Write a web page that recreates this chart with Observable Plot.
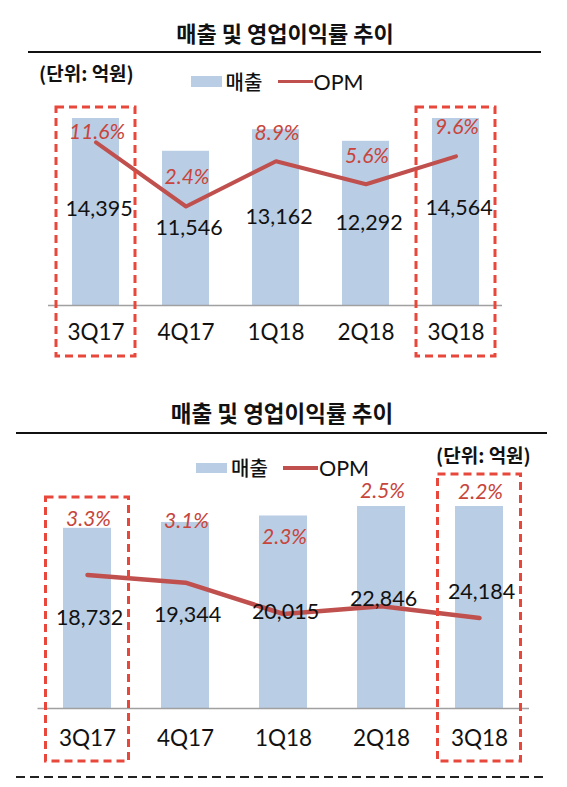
<!DOCTYPE html>
<html>
<head>
<meta charset="utf-8">
<script src="https://cdn.jsdelivr.net/npm/d3@7"></script>
<script src="https://cdn.jsdelivr.net/npm/@observablehq/plot@0.6"></script>
<style>
html, body { margin: 0; padding: 0; background: #fff; }
#page { position: relative; width: 567px; height: 787px; overflow: hidden; background: #fff; }
.abs { position: absolute; white-space: nowrap; line-height: 1; }
.kr { font-family: "Noto Sans CJK KR", sans-serif; color: #111; }
.lat { font-family: Lato, "Noto Sans CJK KR", sans-serif; color: #111; }
.plotwrap { position: absolute; left: 0; }
</style>
</head>
<body>
<div id="page"></div>
<script>
// ---------------- data ----------------
const quarters = ["3Q17", "4Q17", "1Q18", "2Q18", "3Q18"];
const salesTop = [14395, 11546, 13162, 12292, 14564];
const opmTop = [11.6, 2.4, 8.9, 5.6, 9.6];
const salesBottom = [18732, 19344, 20015, 22846, 24184];
const opmBottom = [3.3, 3.1, 2.3, 2.5, 2.2];
const highlighted = ["3Q17", "3Q18"];
const titleText = "매출 및 영업이익률 추이";
const unitText = "(단위: 억원)";
const legendSales = "매출";
const legendOpm = "OPM";

// ---------------- style ----------------
const barColor = "#b9cde5";
const lineColor = "#c0504d";
const labelRed = "#c8453b";
const boxRed = "#e8473b";

const page = document.getElementById("page");

function addDiv(cls, text, css) {
  const el = document.createElement("div");
  el.className = "abs " + cls;
  el.textContent = text;
  Object.assign(el.style, css);
  page.appendChild(el);
  return el;
}
function addBox(css) {
  const el = document.createElement("div");
  el.style.position = "absolute";
  Object.assign(el.style, css);
  page.appendChild(el);
  return el;
}

function header(h) {
  addDiv("kr", titleText, {left: h.titleX + "px", top: h.titleY + "px", fontSize: h.titleSize + "px",
    fontWeight: "700", transform: "translate(-50%,-50%)"});
  addBox({left: h.ruleX1 + "px", top: (h.ruleY - 1) + "px", width: (h.ruleX2 - h.ruleX1) + "px", height: "2px", background: "#111"});
  addDiv("kr", unitText, {left: h.unitX + "px", top: h.unitY + "px", fontSize: "19px", fontWeight: "600",
    transform: "translateY(-50%)"});
  // legend
  addBox({left: h.legX + "px", top: (h.legY - 5.3) + "px", width: "31px", height: "10.6px", background: barColor});
  addDiv("kr", legendSales, {left: (h.legX + 35) + "px", top: h.legY + "px", fontSize: "20px", fontWeight: "500",
    transform: "translateY(-50%)"});
  addBox({left: (h.legX + 87) + "px", top: (h.legY - 1.75) + "px", width: "35px", height: "3.5px", background: lineColor});
  addDiv("lat", legendOpm, {left: (h.legX + 123) + "px", top: (h.legY + 1) + "px", fontSize: "21.5px",
    transform: "translateY(-50%)"});
}

function chart(cfg) {
  const data = quarters.map((q, i) => ({q, sales: cfg.sales[i], opm: cfg.opm[i]}));
  const opmToY = d3.scaleLinear().domain(cfg.opmDomain).range([0, cfg.yMax]);
  const fmt = d3.format(",");
  const marks = [
    Plot.barY(data, {x: "q", y: "sales", fill: barColor, clip: true}),
    Plot.ruleY([0], {stroke: "#a0a0a0", strokeWidth: 1.5}),
    Plot.line(data, {x: "q", y: d => opmToY(d.opm), stroke: lineColor, strokeWidth: cfg.lineWidth,
      strokeLinejoin: "round", strokeLinecap: "round"}),
    Plot.text(data, {x: "q", y: d => d.sales / 2, text: d => fmt(d.sales), fontSize: 21.5, fill: "#111",
      dx: cfg.valueDx, dy: cfg.valueDy}),
    ...data.map((d, i) => Plot.text([d], {x: "q", y: e => opmToY(e.opm), text: e => e.opm.toFixed(1) + "%",
      dx: 1, dy: cfg.opmLabelDy[i], fill: labelRed, fontSize: 21, fontStyle: "italic"})),
    ...highlighted.map((q, i) => Plot.barY([q], {x: d => d, y: () => cfg.yMax, fill: "none", stroke: boxRed,
      strokeWidth: 3, strokeDasharray: "8,5", insetLeft: cfg.boxSide, insetRight: cfg.boxSide,
      insetTop: cfg.boxTop[i], insetBottom: cfg.boxBottom})),
    Plot.axisX({tickSize: 0, tickPadding: cfg.tickPadding, fontSize: 22.5, label: null, fill: "#111"})
  ];
  const svg = Plot.plot({
    width: 567,
    height: cfg.height,
    marginTop: cfg.marginTop,
    marginBottom: cfg.marginBottom,
    marginLeft: cfg.marginLeft,
    marginRight: cfg.marginRight,
    x: {domain: quarters, type: "band", paddingInner: cfg.pad, paddingOuter: cfg.pad / 2},
    y: {domain: [0, cfg.yMax], axis: null},
    style: {fontFamily: "Lato, 'Noto Sans CJK KR', sans-serif", background: "transparent", overflow: "visible", color: "#111"},
    marks
  });
  const wrap = document.createElement("div");
  wrap.className = "plotwrap";
  wrap.style.top = cfg.top + "px";
  wrap.appendChild(svg);
  page.appendChild(wrap);
}

// ---------------- top chart ----------------
header({titleX: 285, titleY: 32, titleSize: 22, ruleX1: 28, ruleX2: 541, ruleY: 52,
  unitX: 39, unitY: 72, legX: 190.5, legY: 81.5});
chart({
  sales: salesTop, opm: opmTop, top: 95, height: 275,
  marginTop: 23, marginBottom: 65, marginLeft: 48, marginRight: 65,
  pad: 0.48, yMax: 14000, opmDomain: [-11.82, 15.04], lineWidth: 4,
  valueDx: 3, valueDy: 0, opmLabelDy: [-10, -29, -28, -28, -29],
  boxSide: -16, boxTop: [-11, -11], boxBottom: -51, tickPadding: 18.8
});

// ---------------- bottom chart ----------------
header({titleX: 282, titleY: 412, titleSize: 22.5, ruleX1: 16, ruleX2: 547, ruleY: 433,
  unitX: 436, unitY: 454, legX: 196, legY: 468});
chart({
  sales: salesBottom, opm: opmBottom, top: 465, height: 322,
  marginTop: 41, marginBottom: 79, marginLeft: 37.5, marginRight: 38,
  pad: 0.51, yMax: 21000, opmDomain: [-0.118, 5.05], lineWidth: 4.5,
  valueDx: 2, valueDy: 0, opmLabelDy: [-56, -61, -77, -114.5, -126],
  boxSide: -17.5, boxTop: [-9, -32], boxBottom: -53, tickPadding: 21.4
});

// dashed separator at the bottom
const sep = document.createElementNS("http://www.w3.org/2000/svg", "svg");
sep.setAttribute("width", "567");
sep.setAttribute("height", "6");
sep.style.position = "absolute";
sep.style.left = "0px";
sep.style.top = "774px";
const ln = document.createElementNS("http://www.w3.org/2000/svg", "line");
ln.setAttribute("x1", "16"); ln.setAttribute("x2", "547");
ln.setAttribute("y1", "3"); ln.setAttribute("y2", "3");
ln.setAttribute("stroke", "#222"); ln.setAttribute("stroke-width", "2");
ln.setAttribute("stroke-dasharray", "9,5");
sep.appendChild(ln);
page.appendChild(sep);
</script>
</body>
</html>
